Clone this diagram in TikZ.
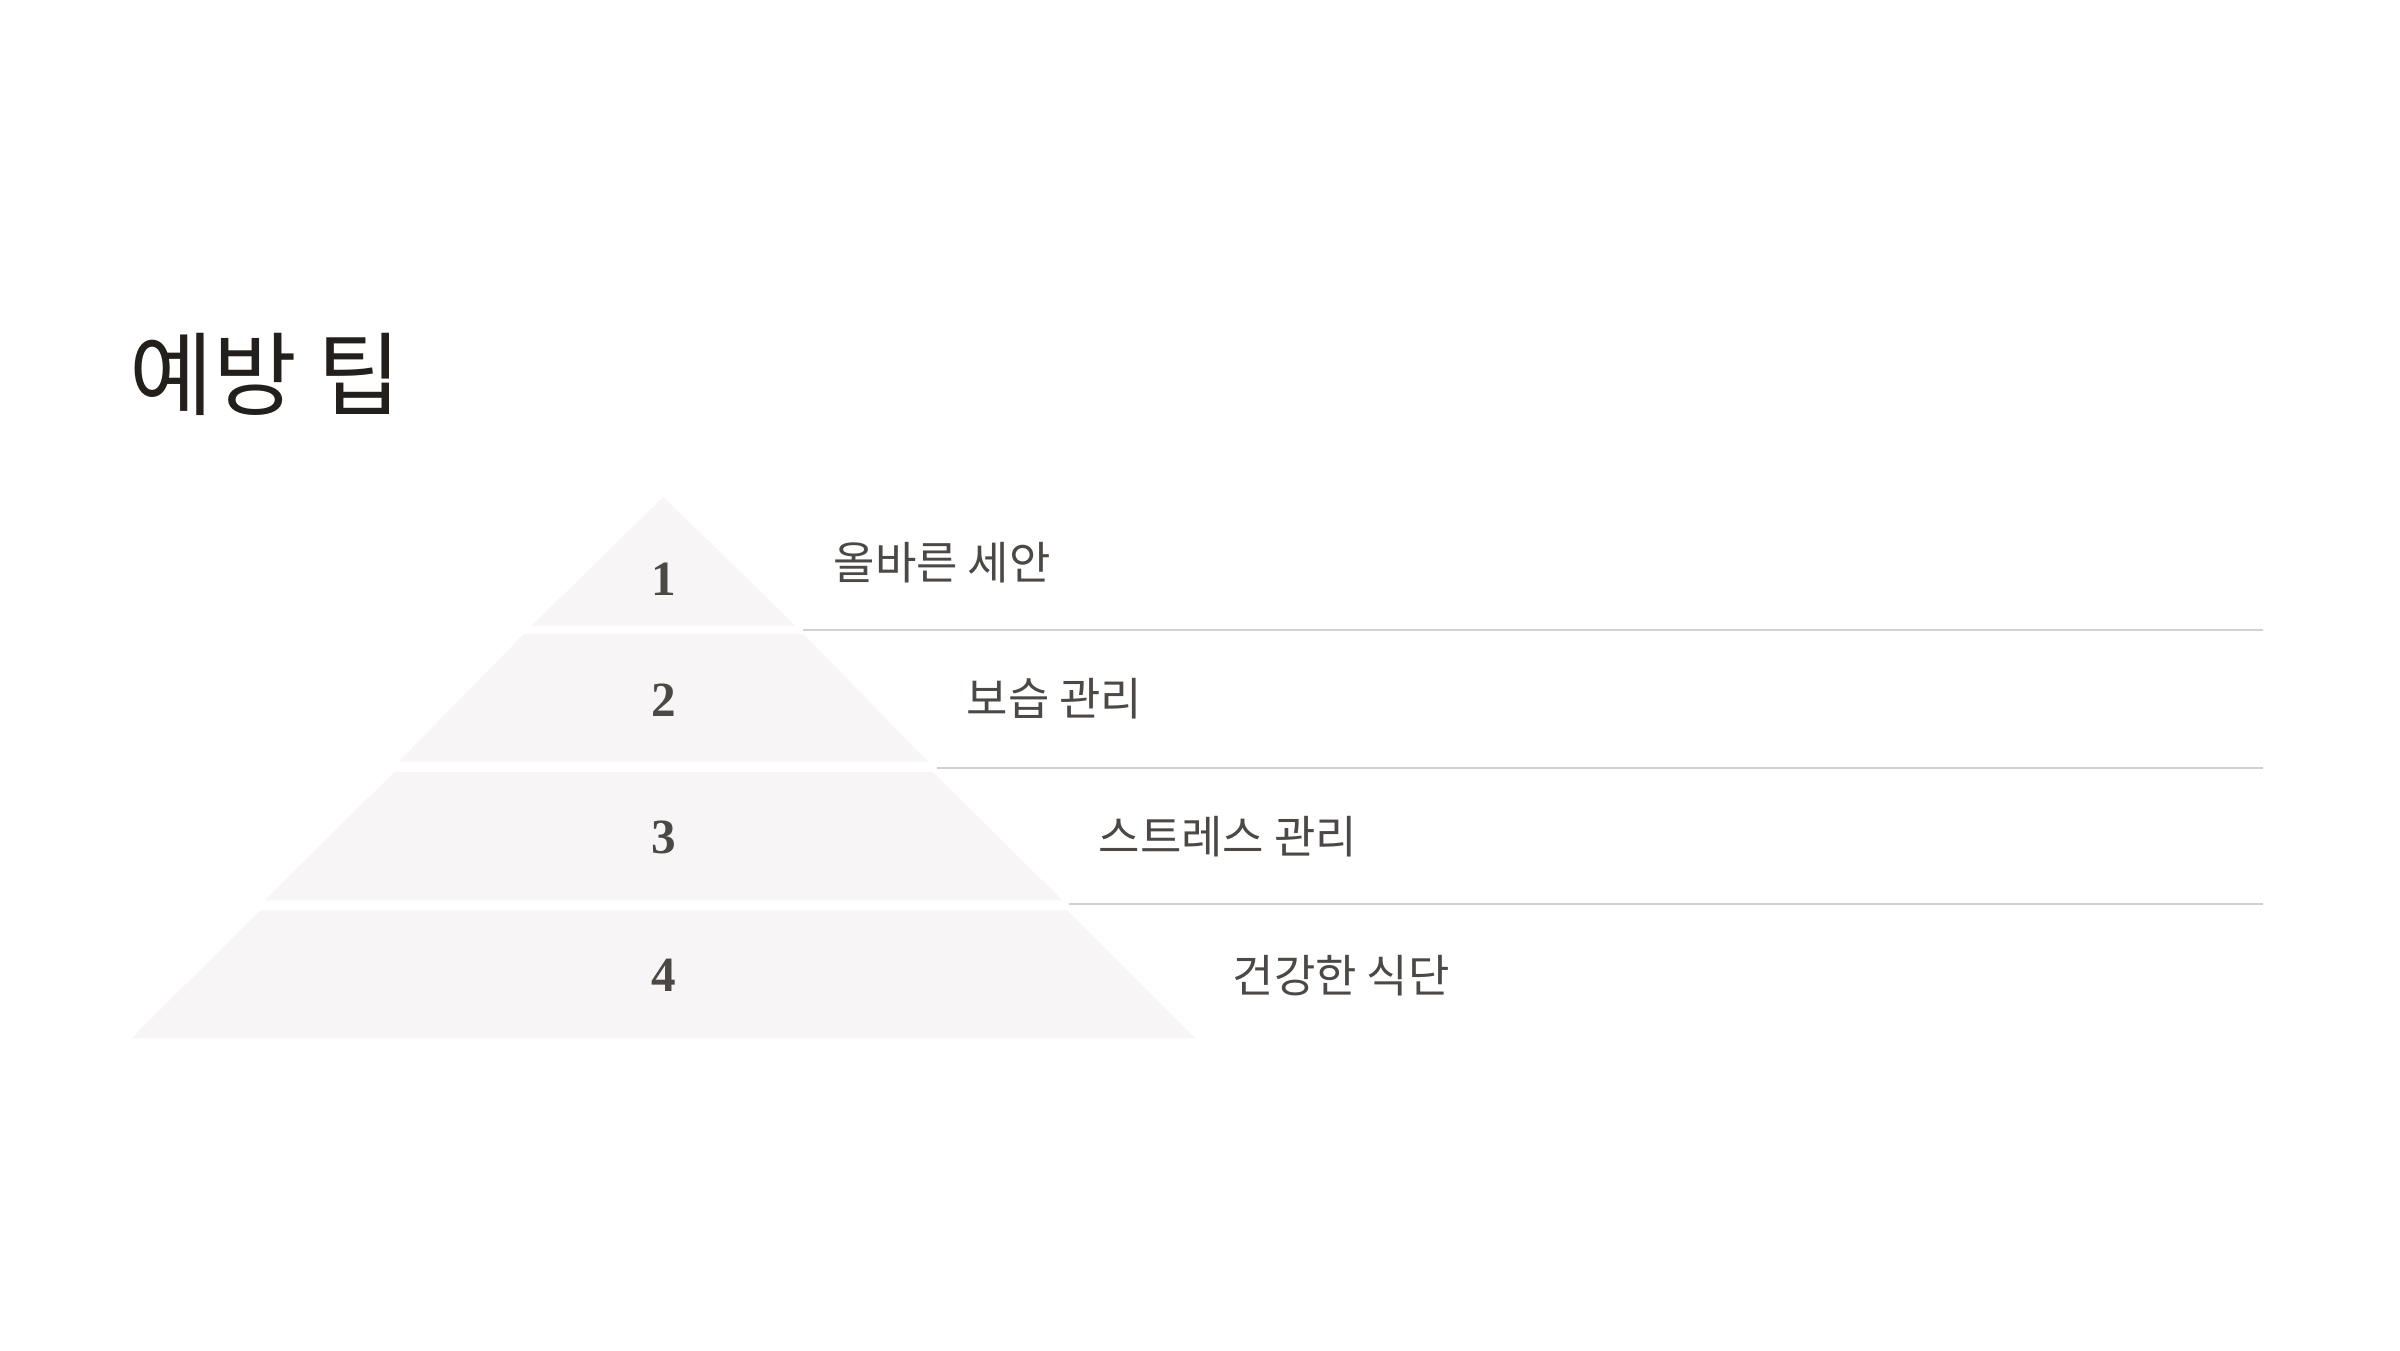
\documentclass[tikz,border=0pt]{standalone}
\usepackage{fontspec}
\setmainfont{Liberation Serif}
\newfontfamily\krfont{Noto Sans CJK KR}
\definecolor{tierfill}{HTML}{F7F5F5}
\definecolor{sepgray}{HTML}{D4D0D0}
\definecolor{textgray}{HTML}{4B4845}
\definecolor{titleblack}{HTML}{231F1C}
\tikzset{
    tier/.style={fill=tierfill},
    num/.style={inner sep=0pt,text=textgray,font=\fontsize{14}{16}\selectfont\bfseries},
    tiplabel/.style={anchor=west,inner sep=0pt,text=textgray,font=\krfont\fontsize{12.8}{15}\selectfont},
    sepline/.style={draw=sepgray,line width=0.02cm}
}
\begin{document}
\begin{tikzpicture}
                \fill[white] (0,0) rectangle (24,-13.5);
                \useasboundingbox (0,0) rectangle (24,-13.5);
                \node[anchor=west,inner sep=0pt,text=titleblack,font=\krfont\fontsize{25.9}{30}\selectfont] (T) at (1.29,-3.74) {예방 팁};
                \fill[tier] (6.635,-4.97) -- (7.955,-6.26) -- (5.315,-6.26) -- cycle;
                \fill[tier] (5.24,-6.34) -- (8.03,-6.34) -- (9.285,-7.62) -- (3.985,-7.62) -- cycle;
                \fill[tier] (3.945,-7.72) -- (9.325,-7.72) -- (10.62,-9.00) -- (2.65,-9.00) -- cycle;
                \fill[tier] (2.605,-9.10) -- (10.665,-9.10) -- (11.95,-10.38) -- (1.32,-10.38) -- cycle;
                \node[num] (N1) at (6.635,-5.79) {1};
                \node[num] (N2) at (6.635,-7.00) {2};
                \node[num] (N3) at (6.635,-8.37) {3};
                \node[num] (N4) at (6.635,-9.75) {4};
                \node[tiplabel] (L1) at (8.33,-5.63) {올바른 세안};
                \node[tiplabel] (L2) at (9.66,-6.99) {보습 관리};
                \node[tiplabel] (L3) at (10.98,-8.37) {스트레스 관리};
                \node[tiplabel] (L4) at (12.32,-9.76) {건강한 식단};
                \draw[sepline] (8.03,-6.30) -- (22.63,-6.30);
                \draw[sepline] (9.37,-7.68) -- (22.63,-7.68);
                \draw[sepline] (10.69,-9.04) -- (22.63,-9.04);
            \end{tikzpicture}
\end{document}
